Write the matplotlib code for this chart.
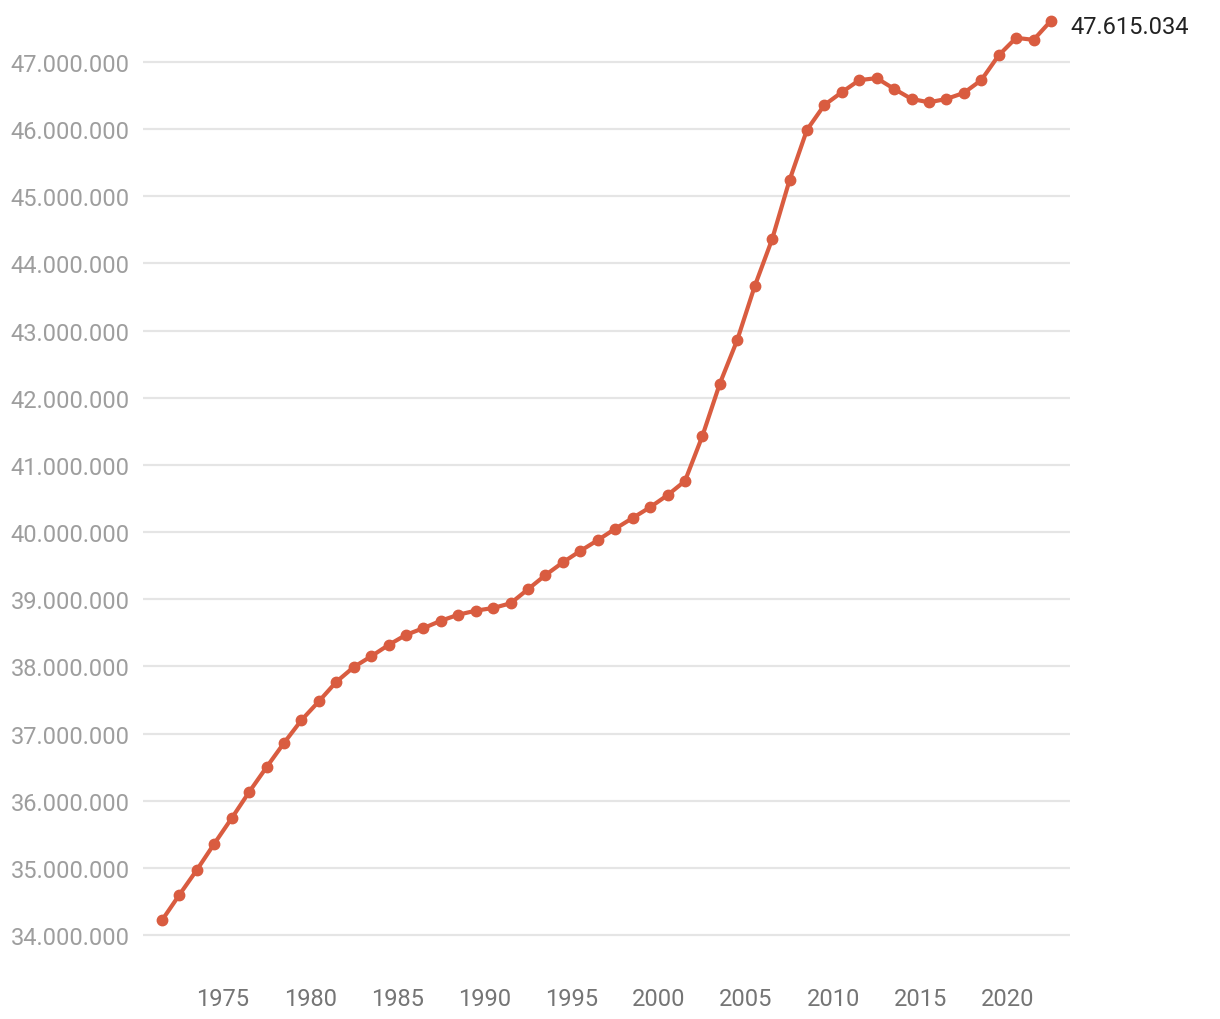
import matplotlib.pyplot as plt
from matplotlib.ticker import FuncFormatter

years = list(range(1971, 2023))
population = [
    34.22, 34.60, 34.97, 35.36, 35.74, 36.13, 36.50, 36.86, 37.20, 37.48,
    37.77, 37.99, 38.15, 38.32, 38.47, 38.57, 38.68, 38.77, 38.83, 38.87,
    38.94, 39.15, 39.36, 39.55, 39.72, 39.88, 40.05, 40.21, 40.37, 40.55,
    40.76, 41.43, 42.21, 42.86, 43.66, 44.36, 45.24, 45.99, 46.36, 46.55,
    46.73, 46.76, 46.60, 46.45, 46.40, 46.45, 46.54, 46.73, 47.10, 47.36,
    47.33, 47.615034,
]
population = [p * 1e6 for p in population]
x_ticks = list(range(1975, 2021, 5))
y_ticks = list(range(34_000_000, 47_000_001, 1_000_000))

plt.rcParams['font.family'] = ['Roboto', 'DejaVu Sans']

fig = plt.figure(figsize=(12.2, 10.2), dpi=100)
ax = fig.add_axes([143 / 1220, 1 - 960 / 1020, (1070 - 143) / 1220, (960 - 15) / 1020])

# points sit in the middle of each year
xs = [y + 0.5 for y in years]
ax.plot(xs, population, color="#d95c40", lw=3, marker="o", ms=7.5,
        clip_on=False, zorder=3)

ax.set_xlim(1970.41, 2023.59)
ax.set_ylim(33.643e6, 47.715e6)
ax.set_xticks(x_ticks)
ax.set_yticks(y_ticks)
ax.yaxis.set_major_formatter(FuncFormatter(lambda v, _: f"{int(v):,}".replace(",", ".")))

ax.grid(axis="y", color="#e5e5e5", lw=1.6)
ax.set_axisbelow(True)
for s in ax.spines.values():
    s.set_visible(False)
ax.tick_params(axis="both", length=0, labelsize=17)
ax.tick_params(axis="y", pad=9.5, labelcolor="#9e9e9e")
ax.tick_params(axis="x", pad=20, labelcolor="#757575")

last = population[-1]
ax.annotate(f"{int(round(last)):,}".replace(",", "."), (xs[-1], last),
            xytext=(14, -4), textcoords="offset points", va="center",
            ha="left", fontsize=17, color="#222222", annotation_clip=False)

fig.savefig("out.png", dpi=100, facecolor="white")
